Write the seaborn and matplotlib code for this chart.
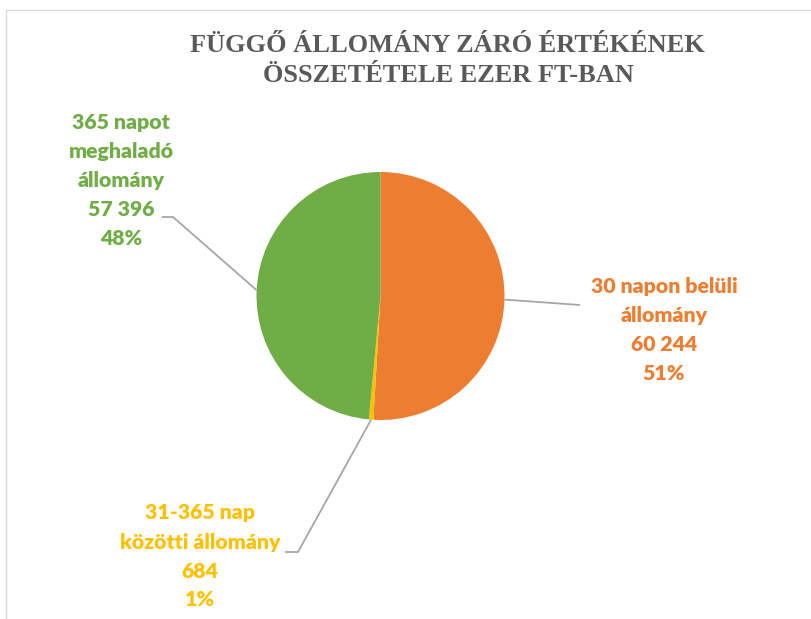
import numpy as np
import seaborn as sns
from matplotlib import pyplot as plt
from matplotlib.lines import Line2D

# adatok
categories = ['30 napon belüli\nállomány', '31-365 nap\nközötti állomány', '365 napot\nmeghaladó\nállomány']
values = [60244, 684, 57396]
value_labels = ['60 244', '684', '57 396']
pct_labels = ['51%', '1%', '48%']
colors = ['#ED7D31', '#FFC000', '#70AD47']

sns.set_theme(style='white')
plt.rcParams['font.family'] = ['Lato', 'DejaVu Sans']

W, H = 812, 619
fig = plt.figure(figsize=(W / 100, H / 100), dpi=100)
ax = fig.add_axes([0, 0, 1, 1])

cx, cy, r = 380.5, H - 296, 124
wedges, _ = ax.pie(values, colors=colors, startangle=90, counterclock=False,
                   center=(cx, cy), radius=r, wedgeprops=dict(linewidth=0))
ax.set_xlim(0, W)
ax.set_ylim(0, H)
ax.axis('off')

# címkék: szöveg középpontja, könyök, vonal vége (pixelben, felülről)
label_pos = [(664, 287), (200, 513), (121, 123)]
leader_pts = [[(580, 305)], [(298, 552), (285, 552)], [(173, 217), (162, 217)]]
line_gap = 29

for i, w in enumerate(wedges):
    ang = np.deg2rad((w.theta1 + w.theta2) / 2)
    x0, y0 = cx + r * np.cos(ang), cy + r * np.sin(ang)
    xs = [x0] + [p[0] for p in leader_pts[i]]
    ys = [y0] + [H - p[1] for p in leader_pts[i]]
    ax.plot(xs, ys, color='#A6A6A6', lw=1.3, solid_capstyle='butt')
    lines = categories[i].split('\n') + [value_labels[i], pct_labels[i]]
    lx, ly = label_pos[i]
    for j, t in enumerate(lines):
        ax.text(lx, H - (ly + j * line_gap), t, ha='center', va='center',
                fontsize=15.3, fontweight='heavy', color=colors[i])

fig.text(447 / W, 1 - 45 / H, 'FÜGGŐ ÁLLOMÁNY ZÁRÓ ÉRTÉKÉNEK', ha='center', va='center',
         family='Liberation Serif', fontweight='bold', fontsize=19, color='#595959')
fig.text(449 / W, 1 - 76 / H, 'ÖSSZETÉTELE EZER FT-BAN', ha='center', va='center',
         family='Liberation Serif', fontweight='bold', fontsize=19, color='#595959')

# diagram keret
fig.add_artist(Line2D([6 / W, 6 / W], [0, 1 - 10 / H], transform=fig.transFigure, color='#D9D9D9', lw=1))
fig.add_artist(Line2D([6 / W, 1], [1 - 10 / H, 1 - 10 / H], transform=fig.transFigure, color='#D9D9D9', lw=1))

fig.savefig('out.png', dpi=100)
